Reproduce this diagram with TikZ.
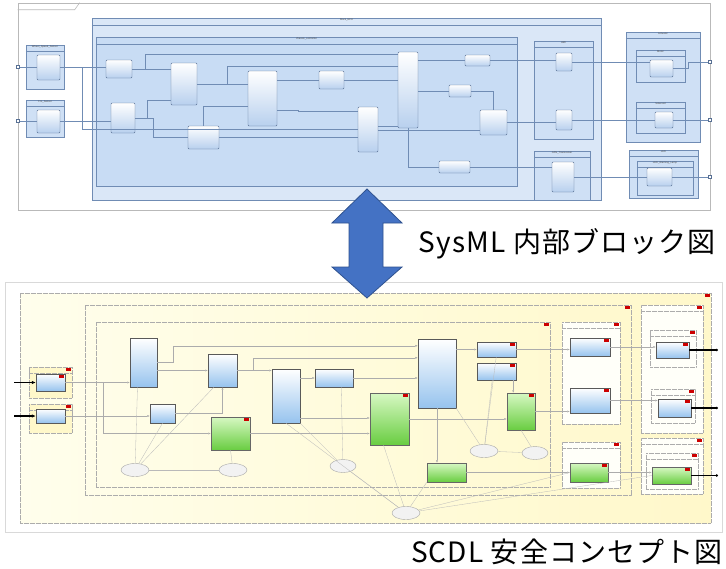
\documentclass[tikz,border=0pt]{standalone}
\usepackage{fontspec}
\newfontfamily\jpfont[LetterSpace=4]{Noto Sans CJK JP}
\newfontfamily\tinyfont{Liberation Sans}
\usetikzlibrary{positioning,shapes,fit,arrows.meta}

\definecolor{ecufill}{RGB}{218,231,247}
\definecolor{ctlfill}{RGB}{200,220,244}
\definecolor{grpfill}{RGB}{207,224,245}
\definecolor{sysline}{RGB}{112,140,180}
\definecolor{sysdark}{RGB}{88,112,148}
\definecolor{blkbot}{RGB}{184,208,238}
\definecolor{scdlbg}{RGB}{255,254,236}
\definecolor{scdlbg2}{RGB}{255,248,202}
\definecolor{qblue}{RGB}{150,195,238}
\definecolor{qgreen}{RGB}{105,205,65}
\definecolor{qgreentop}{RGB}{215,248,195}
\definecolor{arrblue}{RGB}{68,114,196}
\definecolor{arrdark}{RGB}{47,82,143}

\tikzstyle{frm}=[draw=gray!55, line width=0.6pt, inner sep=0pt]
\tikzstyle{grp}=[draw=sysline, fill=grpfill, inner sep=0pt, line width=0.4pt]
\tikzstyle{sblk}=[draw=sysdark, top color=white, bottom color=blkbot, rounded corners=1pt, inner sep=0pt, line width=0.4pt]
\tikzstyle{sline}=[draw=sysline, line width=0.35pt]
\tikzstyle{port}=[draw=sysdark, fill=white, minimum size=3pt, inner sep=0pt, line width=0.3pt]
\tikzstyle{ttl}=[font=\tinyfont\fontsize{2.6}{3}\selectfont, text=black!70, inner sep=0.5pt]
\tikzstyle{qfrm}=[draw=gray!65, dash pattern=on 0.7pt off 0.5pt, line width=0.5pt, inner sep=0pt]
\tikzstyle{qbox}=[draw=gray!65, dash pattern=on 0.7pt off 0.5pt, fill=scdlbg!30!white, line width=0.5pt, inner sep=0pt]
\tikzstyle{qblk}=[draw=black!65, top color=white, bottom color=qblue, inner sep=0pt, line width=0.4pt]
\tikzstyle{qgrn}=[draw=black!60, top color=qgreentop, bottom color=qgreen, inner sep=0pt, line width=0.4pt]
\tikzstyle{qline}=[draw=gray!65, line width=0.35pt, -{Latex[length=2.5pt,width=2pt]}]
\tikzstyle{eline}=[draw=gray!55, line width=0.3pt]
\tikzstyle{hazard}=[ellipse, draw=gray!70, fill=gray!10, minimum width=28pt, minimum height=13pt, inner sep=0pt, line width=0.4pt]
\tikzstyle{rmark}=[fill=red!80!black, minimum width=5pt, minimum height=3pt, inner sep=0pt, anchor=north east]
\tikzstyle{inarrow}=[draw=black, line width=1.1pt, -{Latex[length=4pt,width=3.5pt]}]
\tikzstyle{outarrow}=[draw=black, line width=1.1pt, -{Circle[length=2.5pt]}]

\begin{document}
\begin{tikzpicture}[x=1pt, y=-1pt]
\useasboundingbox[fill=white] (0,0) rectangle (726,568);

% SysML
\node (ibd) [frm, fill=white, fit={(18,3) (710,210)}] {};
\draw[frm] ([yshift=-7pt]ibd.north west) -- ++(57,0) -- ++(5,-7);
\node (ecu) [grp, fill=ecufill, fit={(92,18) (601,200)}] {};
\draw[sline] ([yshift=-7pt]ecu.north west) -- ([yshift=-7pt]ecu.north east);
\node (ecut) [ttl, below=0.5pt of ecu.north] {block\_ECU};
\node (ctl) [grp, fill=ctlfill, fit={(96,37) (517,186)}] {};
\draw[sline] ([yshift=-7pt]ctl.north west) -- ([yshift=-7pt]ctl.north east);
\node (ctlt) [ttl, below=0.5pt of ctl.north] {chassis\_controller};

\node (wss) [grp, fit={(26,45) (64,89)}] {};
\draw[sline] ([yshift=-6pt]wss.north west) -- ([yshift=-6pt]wss.north east);
\node (wsst) [ttl, below=0.5pt of wss.north] {Wheel\_Speed\_Sensor};
\node (wssb) [sblk, fit={(37,55) (60,80)}] {};
\node (ygs) [grp, fit={(26,100) (64,137)}] {};
\draw[sline] ([yshift=-6pt]ygs.north west) -- ([yshift=-6pt]ygs.north east);
\node (ygst) [ttl, below=0.5pt of ygs.north] {Y-G\_Sensor};
\node (ygsb) [sblk, fit={(37,110) (60,133)}] {};

\node (b1) [sblk, fit={(106,60) (132,78)}] {};
\node (b2) [sblk, fit={(111,103) (135,133)}] {};
\node (b3) [sblk, fit={(171,63) (197,105)}] {};
\node (b4) [sblk, fit={(188,126) (219,149)}] {};
\node (b5) [sblk, fit={(248,71) (277,126)}] {};
\node (b6) [sblk, fit={(319,71) (344,89)}] {};
\node (b7) [sblk, fit={(358,107) (378,152)}] {};
\node (b8) [sblk, fit={(398,52) (418,128)}] {};
\node (b9) [sblk, fit={(465,55) (490,66)}] {};
\node (b10) [sblk, fit={(449,85) (471,97)}] {};
\node (b11) [sblk, fit={(480,110) (507,135)}] {};
\node (b12) [sblk, fit={(439,161) (470,173)}] {};

\node (hmi) [grp, fit={(534,41) (593,139)}] {};
\draw[sline] ([yshift=-6pt]hmi.north west) -- ([yshift=-6pt]hmi.north east);
\node (hmit) [ttl, below=0.5pt of hmi.north] {HMI};
\node (hb1) [sblk, fit={(556,53) (572,71)}] {};
\node (hb2) [sblk, fit={(556,110) (572,130)}] {};
\node (can) [grp, fit={(534,151) (590,200)}] {};
\draw[sline] ([yshift=-6pt]can.north west) -- ([yshift=-6pt]can.north east);
\node (cant) [ttl, below=0.5pt of can.north] {CAN\_Transceiver};
\node (cb) [sblk, fit={(552,162) (574,192)}] {};

\node (act) [grp, fit={(626,32) (700,142)}] {};
\draw[sline] ([yshift=-6pt]act.north west) -- ([yshift=-6pt]act.north east);
\node (actt) [ttl, below=0.5pt of act.north] {Actuator};
\node (mot) [grp, fit={(636,50) (685,82)}] {};
\draw[sline] ([yshift=-6pt]mot.north west) -- ([yshift=-6pt]mot.north east);
\node (mott) [ttl, below=0.5pt of mot.north] {Motor};
\node (mb) [sblk, fit={(650,60) (673,77)}] {};
\node (sol) [grp, fit={(636,102) (685,133)}] {};
\draw[sline] ([yshift=-6pt]sol.north west) -- ([yshift=-6pt]sol.north east);
\node (solt) [ttl, below=0.5pt of sol.north] {Solenoid};
\node (sb) [sblk, fit={(655,112) (673,128)}] {};
\node (led) [grp, fit={(629,150) (698,198)}] {};
\draw[sline] ([yshift=-6pt]led.north west) -- ([yshift=-6pt]led.north east);
\node (ledt) [ttl, below=0.5pt of led.north] {LED};
\node (lamp) [grp, fit={(637,161) (693,195)}] {};
\draw[sline] ([yshift=-6pt]lamp.north west) -- ([yshift=-6pt]lamp.north east);
\node (lampt) [ttl, below=0.5pt of lamp.north] {LED\_Warning\_Lamp};
\node (lb) [sblk, fit={(647,168) (672,186)}] {};

\node (pin1) [port] at (18,67) {};
\node (pin2) [port] at (18,121) {};
\node (pout1) [port] at (710,62) {};
\node (pout2) [port] at (710,120) {};
\node (pout3) [port] at (710,177) {};

\draw[sline] (pin1) -- (pin1 -| wssb.west);
\draw[sline] (pin2) -- (pin2 -| ygsb.west);
\draw[sline] (wssb.east) -- (wssb.east -| b1.west);
\draw[sline] (wssb.east) -- ++(22,0) |- (b7.west);
\draw[sline] (ygsb.east) -- (ygsb.east -| b2.west);
\draw[sline] (b1.east) -- (b1.east -| b3.west);
\draw[sline] (b1.east) -- ++(13,0) |- ([yshift=-2pt]b8.north west);
\draw[sline] (b2.east) -- ++(12,0) |- ([yshift=5pt]b3.south west);
\draw[sline] (b2.east) -- ++(18,0) |- (b4.west);
\draw[sline] (b3.east) -- (b3.east -| b5.west);
\draw[sline] (b3.east) -- ++(30,0) |- ([yshift=-14pt]b8.north west);
\draw[sline] (b4.north) |- ([yshift=-8pt]b5.west);
\draw[sline] (b4.east) -- (b4.east -| b7.west);
\draw[sline] (b5.east |- b6.west) -- (b6.west);
\draw[sline] ([yshift=-12pt]b5.east) -- ++(21,0) |- ([yshift=-4pt]b7.north west);
\draw[sline] (b6.east) -- (b6.east -| b8.west);
\draw[sline] ([yshift=3pt]b7.east) -- ([yshift=3pt]b7.east -| b8.west);
\draw[sline] (b8.east |- b9.west) -- (b9.west);
\draw[sline] (b8.east |- b10.west) -- (b10.west);
\draw[sline] (b10.east) -| (b11.north);
\draw[sline] ([yshift=-8pt]b7.east |- b11.west) -- ([yshift=-8pt]b11.west);
\draw[sline] (b8.south) |- (b12.west);
\draw[sline] (b9.east) -- (b9.east -| hb1.west);
\draw[sline] (hb1.east) -- (hb1.east -| mb.west);
\draw[sline] (mb.east) -- ++(15,0) |- (pout1);
\draw[sline] (b11.east) -- (b11.east -| hb2.west);
\draw[sline] (hb2.east) -- (hb2.east -| sb.west);
\draw[sline] (sb.east) -- (sb.east -| pout2.west);
\draw[sline] (b12.east) -- (b12.east -| cb.west);
\draw[sline] (cb.east) -- (cb.east -| lb.west);
\draw[sline] (lb.east) -- (lb.east -| pout3.west);

% SCDL
\node (shot) [frm, draw=gray!30, fit={(5,282) (722,532)}] {};
\node (yel) [qfrm, left color=scdlbg, right color=scdlbg2, fit={(20,293) (711,523)}] {};
\node (fr2) [qfrm, fit={(85,305) (631,495)}] {};
\node (fr3) [qfrm, fit={(96,322) (550,487)}] {};
\node (boxa) [qbox, fit={(562,322) (620,424)}] {};
\node (boxb) [qbox, fit={(562,442) (620,488)}] {};
\node (rc1) [qbox, fit={(641,305) (703,433)}] {};
\node (sub1) [qbox, fit={(650,330) (696,367)}] {};
\node (sub2) [qbox, fit={(651,389) (695,423)}] {};
\node (rc2) [qbox, fit={(641,438) (703,494)}] {};
\node (sub3) [qbox, fit={(646,453) (698,489)}] {};
\node (i1grp) [qbox, fill=scdlbg2, fit={(29,367) (72,398)}] {};
\node (i2grp) [qbox, fill=scdlbg2, fit={(29,404) (72,433)}] {};
\foreach \n in {boxa,boxb,rc1,sub1,sub2,rc2,sub3,i1grp,i2grp}
  \draw[qfrm] ([yshift=-6pt]\n.north west) -- ([yshift=-6pt]\n.north east);

\node (i1) [qblk, fit={(36,374) (65,391)}] {};
\node (i2) [qblk, fit={(36,409) (65,423)}] {};
\node (q1) [qblk, fit={(130,338) (157,387)}] {};
\node (q2) [qblk, fit={(150,404) (175,423)}] {};
\node (q3) [qblk, fit={(208,354) (237,387)}] {};
\node (g1) [qgrn, fit={(211,417) (250,450)}] {};
\node (q4) [qblk, fit={(272,369) (300,423)}] {};
\node (q5) [qblk, fit={(315,369) (353,387)}] {};
\node (g2) [qgrn, fit={(370,393) (409,445)}] {};
\node (q6) [qblk, fit={(418,339) (456,408)}] {};
\node (q7) [qblk, fit={(477,342) (516,357)}] {};
\node (q8) [qblk, fit={(477,363) (516,380)}] {};
\node (g3) [qgrn, fit={(507,393) (535,430)}] {};
\node (g4) [qgrn, fit={(427,463) (466,482)}] {};
\node (q9) [qblk, fit={(570,338) (610,356)}] {};
\node (q10) [qblk, fit={(570,388) (610,413)}] {};
\node (g5) [qgrn, fit={(570,463) (608,482)}] {};
\node (q11) [qblk, fit={(656,342) (689,358)}] {};
\node (q12) [qblk, fit={(658,399) (691,417)}] {};
\node (g6) [qgrn, fit={(652,467) (691,484)}] {};
\foreach \n in {yel,fr2,fr3,boxa,boxb,rc1,sub1,sub2,rc2,sub3,i1grp,i2grp,i1,g1,g2,g3,q9,q10,g5,q11,q12,g6,q7,q8}
  \node (\n-r) [rmark] at ([xshift=-1pt,yshift=-1pt]\n.north east) {};

\node (e1) [hazard] at (135,470) {};
\node (e2) [hazard] at (233,470) {};
\node (e3) [hazard, minimum width=26pt] at (343,466) {};
\node (e4) [hazard] at (484,451) {};
\node (e5) [hazard, minimum width=26pt] at (535,453) {};
\node (e6) [hazard] at (406,513) {};

\coordinate (n1) at (14,382.5);
\coordinate (n2) at (14,416);
\coordinate (o1) at (718,350);
\coordinate (o2) at (718,408);
\coordinate (o3) at (718,475.5);

\draw[inarrow] (n1) -- (i1.west);
\draw[inarrow] (n2) -- (i2.west);
\draw[outarrow] (q11.east) -- (o1);
\draw[outarrow] (q12.east) -- (o2);
\draw[outarrow] (g6.east) -- (o3);

\draw[qline] (i1.east) -- (i1.east -| q1.west);
\draw[qline] (i2.east) -- (i2.east -| q2.west);
\draw[qline] (i1.east) -- ++(38,0) |- (g1.west);
\draw[qline] (q1.east |- q3.west) -- (q3.west);
\draw[qline] (q1.east) -- ++(16,0) |- ([yshift=-7pt]q6.north west);
\draw[qline] (q3.east) -- ++(16,0) |- ([yshift=-19pt]q6.north west);
\draw[qline] (q3.east) -- (q3.east -| q4.west);
\draw[qline] (q2.east) -| (q3.south);
\draw[qline] (q5.west -| q4.east) -- (q5.west);
\draw[qline] (q5.east) -- (q5.east -| q6.west);
\draw[qline] (g1.east) -- (g1.east -| g2.west);
\draw[qline] ([yshift=-22pt]q4.east) -- ([yshift=-22pt]q4.east -| g2.west);
\draw[qline] (g2.east) -- (g2.east -| g3.west);
\draw[qline] (q6.east |- q7.west) -- (q7.west);
\draw[qline] (q7.east) -- (q7.east -| q9.west);
\draw[qline] (q9.east) -- (q9.east -| q11.west);
\draw[qline] ([xshift=-3pt]q8.south east) -- ([xshift=-3pt]q8.south east |- g3.north);
\draw[qline] (g3.east) -- (g3.east -| q10.west);
\draw[qline] (q10.east) -- (q10.east -| q12.west);
\draw[qline] (q6.south) -- (q6.south |- g4.north);
\draw[qline] (g4.east) -- (g4.east -| g5.west);
\draw[qline] (g5.east) -- (g5.east -| g6.west);

\draw[eline] (e1) -- ([xshift=-6pt]q1.south);
\draw[eline] (e1) -- (q2.south);
\draw[eline] (e1) -- ([xshift=6pt]q3.south west);
\draw[eline] (e1) -- (e2);
\draw[eline] (e2) -- (g1.south);
\draw[eline] (e3) -- (q4.south east);
\draw[eline] (e3) -- ([xshift=-12pt]q5.south east);
\draw[eline] (e3) -- (e6);
\draw[eline] (e4) -- (q6.south east);
\draw[eline] (e4) -- ([xshift=-20pt]q7.south east);
\draw[eline] (e4) -- ([xshift=-24pt]q8.south east);
\draw[eline] (e4) -- (e5);
\draw[eline] (e5) -- (g3.south);
\draw[eline] (e6) -- ([xshift=-6pt]g2.south);
\draw[eline] (e6) -- (g4.south west);
\draw[eline] (e6) -- (g5.west);
\draw[eline] (e6) -- (g6.west);
\draw[eline] (e6) -- (q4.south);

% arrow and captions
\draw[fill=arrblue, draw=arrdark, line width=0.8pt, line join=miter]
  (367,189) -- (402,223) -- (383,223) -- (383,267) -- (402,267) -- (367,298)
  -- (332,267) -- (349,267) -- (349,223) -- (332,223) -- cycle;
\node (sysml) [anchor=east, inner sep=0pt, font=\jpfont\fontsize{28}{30}\selectfont] at (716,244) {SysML 内部ブロック図};
\node (scdl) [anchor=east, inner sep=0pt, font=\jpfont\fontsize{28}{30}\selectfont] at (723,552) {SCDL 安全コンセプト図};
\end{tikzpicture}
\end{document}
